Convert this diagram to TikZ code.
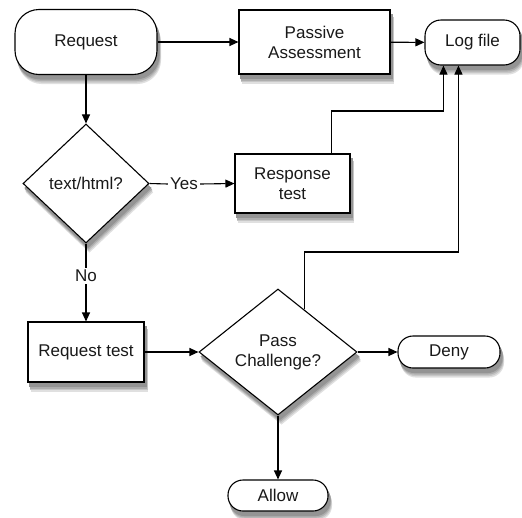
\documentclass[tikz,border=0pt]{standalone}
\usepackage{fontspec}
\setmainfont{Liberation Sans}
\usetikzlibrary{shapes.geometric,arrows.meta,calc,backgrounds}
% soft shadow under a (rounded) rectangle node: #1 node, #2 corner radius
\newcommand\rectshade[2]{%
  \foreach \dx/\dy/\sh in {3.5/9/12, 3/7.5/22, 2.5/6/32, 2/4.5/42}{%
    \fill[black!\sh, rounded corners=#2]
      ($(#1.north west)+(\dx,\dy)$) rectangle ($(#1.south east)+(\dx,\dy)$);}}
% soft shadow under a diamond node
\newcommand\diamshade[1]{%
  \foreach \dx/\dy/\sh in {3.5/9/12, 3/7.5/22, 2.5/6/32, 2/4.5/42}{%
    \fill[black!\sh]
      ($(#1.north)+(\dx,\dy)$) -- ($(#1.east)+(\dx,\dy)$) --
      ($(#1.south)+(\dx,\dy)$) -- ($(#1.west)+(\dx,\dy)$) -- cycle;}}
\begin{document}
\begin{tikzpicture}[x=1pt,y=-1pt,
  every node/.style={font=\fontsize{17}{20}\selectfont, text=black!90, align=center},
  line/.style={line width=1.1pt},
  box/.style={draw, line, fill=white, inner sep=0pt},
  term/.style={box},
  decision/.style={box, diamond, aspect=1},
  arr/.style={line, -{Triangle[length=9pt,width=8pt]}},
  lbl/.style={inner sep=2pt}]
\useasboundingbox (0,0) rectangle (522,517);

% process boxes and terminals
\node[term, rounded corners=24pt, minimum width=142pt, minimum height=65pt] (req) at (86,42) {Request};
\node[box, minimum width=151pt, minimum height=64pt] (pas) at (314.5,42) {Passive\\Assessment};
\node[term, rounded corners=16pt, minimum width=95pt, minimum height=45pt] (log) at (472.5,42.5) {Log file};
\node[decision, minimum width=126pt, minimum height=119pt] (html) at (86,183.5) {text/html?};
\node[box, minimum width=115pt, minimum height=59pt] (resp) at (292.5,183.5) {Response\\test};
\node[box, minimum width=116pt, minimum height=60pt] (rtest) at (86,352) {Request test};
\node[decision, minimum width=158pt, minimum height=126pt] (pass) at (278,352) {Pass\\Challenge?};
\node[term, rounded corners=15pt, minimum width=102pt, minimum height=32pt] (deny) at (449,352) {Deny};
\node[term, rounded corners=15pt, minimum width=100pt, minimum height=31pt] (allow) at (278,495.5) {Allow};

% shadows behind the shapes
\begin{pgfonlayer}{background}
  \rectshade{req}{24pt}
  \rectshade{pas}{0pt}
  \rectshade{log}{16pt}
  \rectshade{resp}{0pt}
  \rectshade{rtest}{0pt}
  \rectshade{deny}{15pt}
  \rectshade{allow}{15pt}
  \diamshade{html}
  \diamshade{pass}
\end{pgfonlayer}

% branch labels
\node[lbl] (yes) at (184,184) {Yes};
\node[lbl] (no) at (86,276) {No};

% routing points into the log file
\coordinate (rup) at ($(resp.north east)+(-19,0)$);
\coordinate (pup) at ($(pass.north)!0.33!(pass.east)$);
\coordinate (logA) at ($(log.south west)+(19,0)$);
\coordinate (logB) at ($(log.south west)+(34,0)$);

% connectors
\draw[arr] (req) -- (pas);
\draw[arr] (pas) -- (log);
\draw[arr] (req) -- (html);
\draw[line] (html.east) -- (yes.west);
\draw[arr] (yes.east) -- (resp.west);
\draw[line] (html.south) -- (no.north);
\draw[arr] (no.south) -- (rtest.north);
\draw[arr] (rtest) -- (pass.west);
\draw[arr] (pass.east) -- (deny);
\draw[arr] (pass.south) -- (allow);
\draw[arr] (rup) -- (rup |- 0,111) -| (logA);
\draw[arr] (pup) -- (pup |- 0,252) -| (logB);
\end{tikzpicture}
\end{document}
